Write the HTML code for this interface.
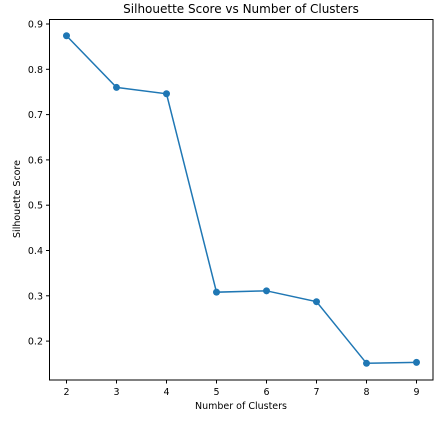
<!DOCTYPE html>
<html><head><meta charset="utf-8"><style>
html,body{margin:0;padding:0;background:#fff;}
svg{display:block;font-family:"DejaVu Sans","Liberation Sans",sans-serif;}
</style></head><body>
<svg id="chart" width="446" height="423" viewBox="0 0 446 423">
<text x="241" y="13" font-size="12" text-anchor="middle" fill="#000">Silhouette Score vs Number of Clusters</text>
<g id="yticks"></g>
<g id="xticks"></g>
<text x="241" y="409" font-size="9.5" text-anchor="middle" fill="#000">Number of Clusters</text>
<text transform="translate(20,199) rotate(-90)" font-size="9.5" text-anchor="middle" fill="#000">Silhouette Score</text>
<g id="series"></g>
<rect x="49.5" y="19.5" width="383.5" height="360.5" fill="none" stroke="#000" stroke-width="1"/>
</svg>
<script>
const clusters = [2,3,4,5,6,7,8,9];
const scores = [0.874,0.760,0.746,0.308,0.311,0.287,0.151,0.153];
const yTickLabels = ["0.2","0.3","0.4","0.5","0.6","0.7","0.8","0.9"];
const xTickLabels = ["2","3","4","5","6","7","8","9"];
const NS="http://www.w3.org/2000/svg";
function xs(v){return 66.5+(v-2)*50;}
function ys(v){return 24+(0.9-v)*453;}
function mk(t,a){const e=document.createElementNS(NS,t);for(const k in a)e.setAttribute(k,a[k]);return e;}
const yg=document.getElementById('yticks'),xg=document.getElementById('xticks'),sg=document.getElementById('series');
yTickLabels.forEach(l=>{const y=ys(parseFloat(l));
 const t=mk('line',{x1:46,x2:49.5,y1:y,y2:y,stroke:'#000'});
 
 
 yg.appendChild(t);
 const tx=mk('text',{x:43,y:y+3.5,'font-size':9.5,'text-anchor':'end',fill:'#000'});tx.textContent=l;
 
 
 yg.appendChild(tx);});
xTickLabels.forEach(l=>{const x=xs(parseFloat(l));
 const t=mk('line',{x1:x,x2:x,y1:380,y2:383.5,stroke:'#000'});
 
 
 xg.appendChild(t);
 const tx=mk('text',{x:x,y:395,'font-size':9.5,'text-anchor':'middle',fill:'#000'});tx.textContent=l;
 
 
 xg.appendChild(tx);});
const pl=mk('polyline',{points:clusters.map((c,i)=>xs(c)+','+ys(scores[i])).join(' '),fill:'none',stroke:'#1f77b4','stroke-width':1.5});


sg.appendChild(pl);
clusters.forEach((c,i)=>{const p=mk('circle',{cx:xs(c),cy:ys(scores[i]),r:3.5,fill:'#1f77b4'});
 
 
 sg.appendChild(p);});
</script>
</body></html>
